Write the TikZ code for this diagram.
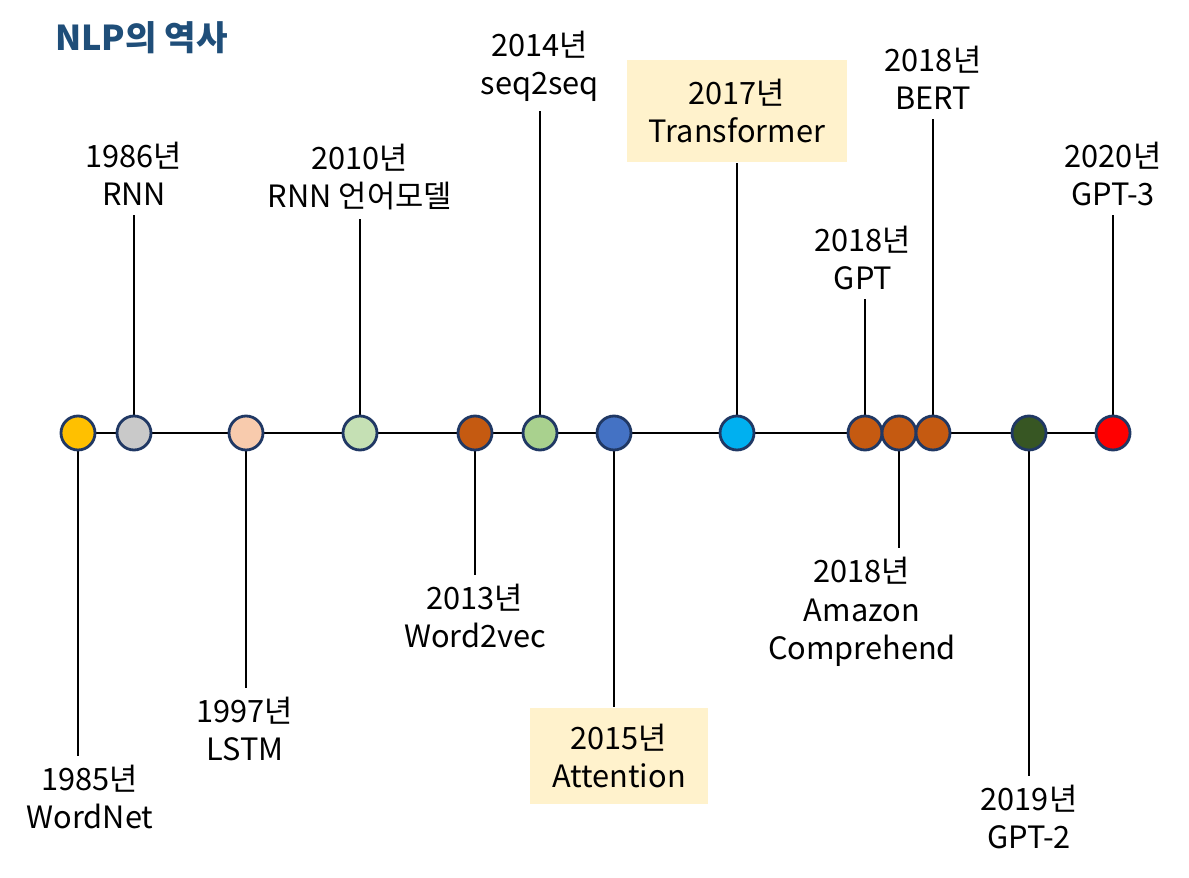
\documentclass[tikz,border=0pt]{standalone}
\usepackage{fontspec}
\setmainfont{Noto Sans CJK KR}
\usepackage{tikz}
\usetikzlibrary{backgrounds}
\definecolor{titleblue}{HTML}{1F4E79}
\definecolor{dotedge}{HTML}{203864}
\definecolor{boxyellow}{HTML}{FFF2CC}
\definecolor{dotyellow}{HTML}{FFC000}
\definecolor{dotgray}{HTML}{C9C9C9}
\definecolor{dotpeach}{HTML}{F8CBAD}
\definecolor{dotmint}{HTML}{C5E0B4}
\definecolor{dotbrown}{HTML}{C55A11}
\definecolor{dotgreen}{HTML}{A9D18E}
\definecolor{dotblue}{HTML}{4472C4}
\definecolor{dotcyan}{HTML}{00B0F0}
\definecolor{dotforest}{HTML}{375623}
\definecolor{dotred}{HTML}{FF0000}
\tikzset{
  yeardot/.style={
    circle,
    draw=dotedge,
    line width=1.6pt,
    minimum size=0.68cm,
    inner sep=0pt
  },
  yearlabel/.style={
    align=center,
    font=\fontsize{17.5}{21.8}\selectfont,
    inner sep=5pt
  },
  hlbox/.style={
    yearlabel,
    fill=boxyellow
  },
  stem/.style={
    line width=0.9pt,
    draw=black
  }
}

\begin{document}
\begin{tikzpicture}[x=0.02cm, y=-0.02cm]
    \useasboundingbox (0,0) rectangle (1189,878);

    \node[anchor=west, text=titleblue, font=\fontsize{19.5}{22}\selectfont\bfseries] (title) at (49,38) {NLP의 역사};

    % timeline dots
    \node[yeardot, fill=dotyellow] (wordnet) at (78,433) {};
    \node[yeardot, fill=dotgray] (rnn) at (134,433) {};
    \node[yeardot, fill=dotpeach] (lstm) at (246,433) {};
    \node[yeardot, fill=dotmint] (rnnlm) at (360,433) {};
    \node[yeardot, fill=dotbrown] (wordvec) at (475,433) {};
    \node[yeardot, fill=dotgreen] (seqseq) at (540,433) {};
    \node[yeardot, fill=dotblue] (attention) at (614,433) {};
    \node[yeardot, fill=dotcyan] (transformer) at (737,433) {};
    \node[yeardot, fill=dotbrown] (gpt) at (865,433) {};
    \node[yeardot, fill=dotbrown] (amazon) at (899,433) {};
    \node[yeardot, fill=dotbrown] (bert) at (933,433) {};
    \node[yeardot, fill=dotforest] (gpttwo) at (1029,433) {};
    \node[yeardot, fill=dotred] (gptthree) at (1113,433) {};

    % labels
    \node[yearlabel] (wordnetlbl) at (90,797) {1985년\\WordNet};
    \node[yearlabel] (rnnlbl) at (134,174) {1986년\\RNN};
    \node[yearlabel] (lstmlbl) at (245,729) {1997년\\LSTM};
    \node[yearlabel] (rnnlmlbl) at (360,177) {2010년\\RNN 언어모델};
    \node[yearlabel] (wordveclbl) at (475,616) {2013년\\Word2vec};
    \node[yearlabel] (seqseqlbl) at (540,66) {2014년\\seq2seq};
    \node[hlbox, minimum width=3.56cm, minimum height=1.94cm] (attentionlbl) at (619,756) {2015년\\Attention};
    \node[hlbox, minimum width=4.4cm, minimum height=2.06cm] (transformerlbl) at (737,111) {2017년\\Transformer};
    \node[yearlabel] (gptlbl) at (863,258) {2018년\\GPT};
    \node[yearlabel] (amazonlbl) at (862,612) {2018년\\Amazon\\Comprehend};
    \node[yearlabel] (bertlbl) at (933,78) {2018년\\BERT};
    \node[yearlabel] (gpttwolbl) at (1029,817) {2019년\\GPT-2};
    \node[yearlabel] (gptthreelbl) at (1113,174) {2020년\\GPT-3};

    \begin{scope}[on background layer]
        \draw[stem] (wordnet) -- (gptthree);
        \draw[stem] (wordnet) -- (wordnet |- wordnetlbl.north);
        \draw[stem] (rnn) -- (rnn |- rnnlbl.south);
        \draw[stem] (lstm) -- (lstm |- lstmlbl.north);
        \draw[stem] (rnnlm) -- (rnnlm |- rnnlmlbl.south);
        \draw[stem] (wordvec) -- (wordvec |- wordveclbl.north);
        \draw[stem] (seqseq) -- (seqseq |- seqseqlbl.south);
        \draw[stem] (attention) -- (attention |- attentionlbl.north);
        \draw[stem] (transformer) -- (transformerlbl);
        \draw[stem] (gpt) -- (gpt |- gptlbl.south);
        \draw[stem] (amazon) -- (amazon |- amazonlbl.north);
        \draw[stem] (bert) -- (bert |- bertlbl.south);
        \draw[stem] (gpttwo) -- (gpttwo |- gpttwolbl.north);
        \draw[stem] (gptthree) -- (gptthree |- gptthreelbl.south);
    \end{scope}
\end{tikzpicture}
\end{document}
